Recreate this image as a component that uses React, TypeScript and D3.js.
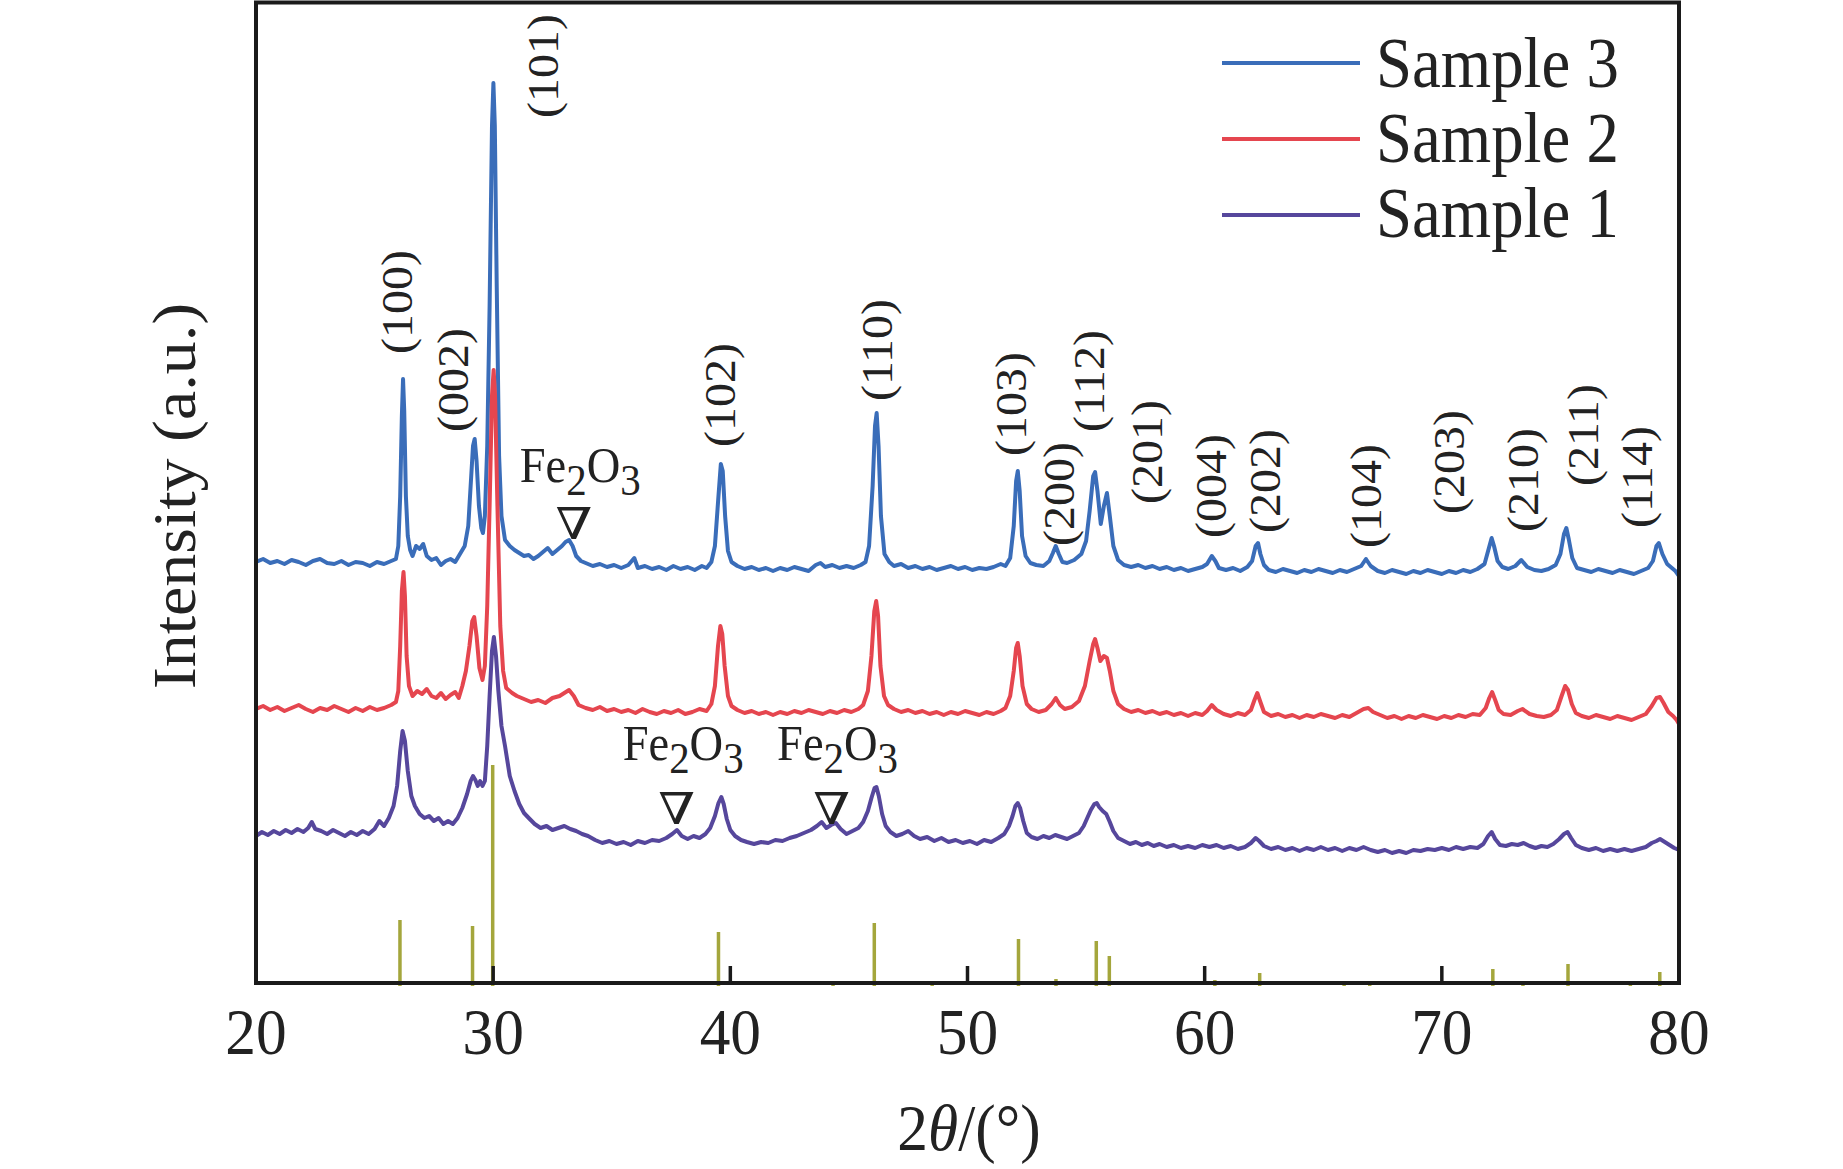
import React from 'react';
import * as d3 from 'd3';

// 2θ (deg) / intensity (a.u.), traces already stacked
const sample3: [number, number][] = [
  [20.0, 424], [20.3, 427], [20.6, 423], [20.9, 425], [21.2, 422], [21.5, 426], [21.8, 424], [22.1, 421],
  [22.4, 425], [22.7, 427], [23.0, 423], [23.3, 422], [23.6, 425], [23.9, 421], [24.2, 424], [24.5, 423],
  [24.8, 420], [25.1, 424], [25.4, 422], [25.7, 425], [25.9, 427], [26.0, 440], [26.08, 490], [26.15, 570],
  [26.2, 607], [26.25, 575], [26.32, 490], [26.4, 450], [26.5, 436], [26.6, 430], [26.75, 440], [26.9, 437],
  [27.05, 442], [27.2, 430], [27.4, 426], [27.6, 428], [27.8, 421], [28.0, 425], [28.2, 427], [28.4, 424],
  [28.6, 432], [28.8, 440], [28.95, 460], [29.05, 500], [29.15, 540], [29.22, 547], [29.3, 525], [29.4, 480],
  [29.5, 458], [29.57, 453], [29.65, 470], [29.75, 540], [29.85, 680], [29.95, 860], [30.01, 903], [30.07, 860],
  [30.15, 700], [30.25, 530], [30.35, 470], [30.5, 446], [30.7, 440], [30.9, 436], [31.1, 433], [31.3, 430],
  [31.5, 431], [31.7, 427], [31.9, 430], [32.1, 434], [32.3, 438], [32.5, 432], [32.7, 436], [32.9, 440],
  [33.05, 444], [33.2, 446], [33.35, 440], [33.5, 430], [33.7, 425], [33.9, 423], [34.2, 420], [34.5, 422],
  [34.8, 419], [35.1, 421], [35.4, 418], [35.7, 421], [35.95, 428], [36.1, 418], [36.4, 420], [36.7, 417],
  [37.0, 419], [37.3, 416], [37.6, 420], [37.9, 417], [38.2, 419], [38.5, 416], [38.8, 420], [39.0, 418],
  [39.2, 424], [39.35, 440], [39.5, 490], [39.6, 522], [39.68, 515], [39.78, 470], [39.9, 435], [40.05, 424],
  [40.3, 420], [40.6, 417], [40.9, 419], [41.2, 416], [41.5, 418], [41.8, 415], [42.1, 418], [42.4, 416],
  [42.7, 419], [43.0, 417], [43.3, 415], [43.6, 421], [43.8, 423], [44.0, 419], [44.3, 421], [44.6, 418],
  [44.9, 420], [45.2, 418], [45.5, 421], [45.7, 424], [45.85, 440], [46.0, 500], [46.1, 560], [46.17, 573],
  [46.25, 540], [46.35, 470], [46.5, 432], [46.7, 424], [46.9, 420], [47.2, 422], [47.5, 418], [47.8, 420],
  [48.1, 417], [48.4, 419], [48.7, 416], [49.0, 418], [49.3, 420], [49.6, 417], [49.9, 419], [50.2, 416],
  [50.5, 418], [50.8, 417], [51.1, 419], [51.4, 422], [51.6, 420], [51.8, 428], [51.95, 460], [52.05, 505],
  [52.12, 515], [52.2, 495], [52.3, 450], [52.45, 430], [52.65, 423], [52.9, 421], [53.2, 420], [53.45, 425],
  [53.6, 433], [53.72, 440], [53.85, 432], [54.0, 424], [54.2, 423], [54.5, 426], [54.8, 432], [55.0, 445],
  [55.15, 475], [55.3, 510], [55.38, 514], [55.48, 495], [55.62, 462], [55.75, 480], [55.88, 493], [56.0, 470],
  [56.15, 440], [56.35, 426], [56.6, 421], [56.9, 419], [57.2, 421], [57.5, 418], [57.8, 420], [58.1, 417],
  [58.4, 419], [58.7, 416], [59.0, 418], [59.3, 415], [59.6, 417], [59.9, 419], [60.1, 422], [60.3, 430],
  [60.45, 425], [60.6, 418], [60.9, 416], [61.2, 418], [61.5, 415], [61.8, 419], [62.0, 425], [62.15, 440],
  [62.25, 443], [62.35, 432], [62.5, 421], [62.7, 416], [63.0, 414], [63.3, 417], [63.6, 415], [63.9, 413],
  [64.2, 416], [64.5, 414], [64.8, 417], [65.1, 415], [65.4, 413], [65.7, 416], [66.0, 414], [66.3, 417],
  [66.6, 420], [66.8, 427], [67.0, 420], [67.3, 415], [67.6, 413], [67.9, 416], [68.2, 414], [68.5, 412],
  [68.8, 415], [69.1, 413], [69.4, 416], [69.7, 414], [70.0, 412], [70.3, 415], [70.6, 413], [70.9, 416],
  [71.2, 414], [71.5, 417], [71.8, 422], [71.95, 435], [72.1, 448], [72.2, 440], [72.35, 425], [72.55, 419],
  [72.8, 417], [73.1, 420], [73.35, 426], [73.6, 419], [73.9, 416], [74.2, 415], [74.5, 417], [74.8, 421],
  [75.0, 432], [75.15, 452], [75.25, 458], [75.35, 447], [75.5, 428], [75.7, 418], [76.0, 416], [76.3, 414],
  [76.6, 417], [76.9, 415], [77.2, 413], [77.5, 416], [77.8, 414], [78.1, 412], [78.4, 415], [78.7, 418],
  [78.9, 425], [79.05, 440], [79.15, 443], [79.3, 432], [79.5, 422], [79.7, 418], [79.85, 415], [80.0, 410],
];

const sample2: [number, number][] = [
  [20.0, 277], [20.3, 280], [20.6, 276], [20.9, 279], [21.2, 275], [21.5, 278], [21.8, 281], [22.1, 277],
  [22.4, 274], [22.7, 278], [23.0, 276], [23.3, 280], [23.6, 277], [23.9, 274], [24.2, 278], [24.5, 275],
  [24.8, 279], [25.1, 276], [25.4, 278], [25.7, 281], [25.9, 284], [26.0, 295], [26.08, 340], [26.15, 395],
  [26.22, 414], [26.28, 390], [26.35, 330], [26.45, 300], [26.6, 290], [26.8, 295], [27.0, 292], [27.2, 297],
  [27.4, 290], [27.6, 288], [27.8, 293], [28.0, 287], [28.2, 291], [28.4, 294], [28.55, 288], [28.7, 300],
  [28.85, 315], [29.0, 340], [29.12, 365], [29.2, 369], [29.3, 350], [29.42, 318], [29.55, 306], [29.65, 320],
  [29.75, 380], [29.85, 480], [29.95, 590], [30.02, 616], [30.08, 590], [30.18, 480], [30.3, 360], [30.42, 315],
  [30.55, 298], [30.8, 293], [31.0, 290], [31.3, 287], [31.6, 284], [31.9, 286], [32.2, 283], [32.5, 288],
  [32.8, 290], [33.0, 293], [33.2, 296], [33.4, 290], [33.6, 281], [33.9, 278], [34.2, 276], [34.5, 279],
  [34.8, 275], [35.1, 277], [35.4, 274], [35.7, 276], [36.0, 273], [36.3, 277], [36.6, 274], [36.9, 272],
  [37.2, 275], [37.5, 273], [37.8, 276], [38.1, 272], [38.4, 274], [38.7, 277], [39.0, 275], [39.2, 282],
  [39.35, 300], [39.48, 340], [39.58, 360], [39.66, 352], [39.76, 320], [39.9, 290], [40.05, 280], [40.3, 276],
  [40.6, 273], [40.9, 275], [41.2, 272], [41.5, 274], [41.8, 271], [42.1, 274], [42.4, 272], [42.7, 275],
  [43.0, 273], [43.3, 276], [43.6, 274], [43.9, 272], [44.2, 275], [44.5, 273], [44.8, 276], [45.1, 274],
  [45.4, 277], [45.6, 281], [45.8, 295], [45.95, 330], [46.07, 375], [46.15, 385], [46.23, 370], [46.33, 320],
  [46.48, 290], [46.65, 281], [46.9, 277], [47.2, 274], [47.5, 276], [47.8, 273], [48.1, 275], [48.4, 272],
  [48.7, 274], [49.0, 271], [49.3, 274], [49.6, 272], [49.9, 275], [50.2, 273], [50.5, 271], [50.8, 274],
  [51.1, 272], [51.4, 275], [51.6, 278], [51.8, 290], [51.95, 315], [52.05, 338], [52.12, 343], [52.2, 330],
  [52.32, 300], [52.5, 282], [52.7, 277], [53.0, 274], [53.3, 276], [53.55, 282], [53.72, 288], [53.9, 281],
  [54.1, 277], [54.4, 279], [54.7, 285], [54.95, 300], [55.15, 325], [55.3, 342], [55.38, 347], [55.48, 338],
  [55.6, 325], [55.75, 330], [55.88, 328], [56.0, 315], [56.15, 295], [56.35, 282], [56.6, 277], [56.9, 274],
  [57.2, 276], [57.5, 273], [57.8, 275], [58.1, 272], [58.4, 274], [58.7, 271], [59.0, 273], [59.3, 270],
  [59.6, 273], [59.9, 271], [60.1, 275], [60.3, 281], [60.5, 276], [60.8, 272], [61.1, 270], [61.4, 273],
  [61.7, 271], [61.95, 276], [62.1, 286], [62.22, 293], [62.35, 284], [62.5, 274], [62.8, 270], [63.1, 272],
  [63.4, 269], [63.7, 271], [64.0, 268], [64.3, 271], [64.6, 269], [64.9, 272], [65.2, 270], [65.5, 268],
  [65.8, 271], [66.1, 269], [66.4, 273], [66.7, 277], [66.9, 278], [67.1, 274], [67.4, 271], [67.7, 268],
  [68.0, 270], [68.3, 267], [68.6, 270], [68.9, 268], [69.2, 271], [69.5, 269], [69.8, 267], [70.1, 270],
  [70.4, 268], [70.7, 271], [71.0, 269], [71.3, 272], [71.6, 271], [71.85, 278], [72.0, 288], [72.12, 294],
  [72.25, 286], [72.4, 276], [72.6, 272], [72.9, 271], [73.2, 275], [73.4, 277], [73.7, 272], [74.0, 270],
  [74.3, 269], [74.6, 271], [74.85, 276], [75.05, 290], [75.2, 300], [75.32, 296], [75.48, 282], [75.65, 273],
  [75.9, 270], [76.2, 268], [76.5, 271], [76.8, 269], [77.1, 267], [77.4, 270], [77.7, 268], [78.0, 266],
  [78.3, 269], [78.6, 272], [78.85, 280], [79.05, 288], [79.2, 289], [79.35, 283], [79.55, 274], [79.75, 270],
  [79.9, 266], [80.0, 262],
];

const sample1: [number, number][] = [
  [20.0, 150], [20.25, 154], [20.5, 151], [20.75, 155], [21.0, 152], [21.25, 156], [21.5, 153], [21.75, 157],
  [22.0, 154], [22.2, 158], [22.35, 164], [22.5, 157], [22.75, 155], [23.0, 152], [23.25, 156], [23.5, 153],
  [23.75, 150], [24.0, 154], [24.25, 151], [24.5, 155], [24.75, 152], [25.0, 157], [25.2, 165], [25.4, 160],
  [25.6, 168], [25.8, 180], [25.95, 200], [26.08, 235], [26.18, 255], [26.28, 245], [26.4, 215], [26.55, 190],
  [26.7, 180], [26.9, 172], [27.1, 168], [27.3, 170], [27.5, 165], [27.7, 168], [27.9, 162], [28.1, 165],
  [28.3, 162], [28.5, 168], [28.7, 178], [28.9, 192], [29.05, 205], [29.15, 210], [29.25, 206], [29.35, 200],
  [29.45, 205], [29.55, 200], [29.65, 205], [29.75, 240], [29.85, 290], [29.95, 335], [30.03, 349], [30.12, 330],
  [30.22, 295], [30.35, 260], [30.5, 240], [30.7, 210], [30.9, 195], [31.1, 182], [31.3, 173], [31.5, 168],
  [31.75, 162], [32.0, 158], [32.25, 160], [32.5, 156], [32.75, 158], [33.0, 160], [33.25, 157], [33.5, 155],
  [33.75, 152], [34.0, 150], [34.3, 146], [34.6, 143], [34.9, 145], [35.2, 142], [35.5, 144], [35.8, 141],
  [36.1, 145], [36.4, 143], [36.7, 146], [37.0, 145], [37.3, 148], [37.55, 152], [37.75, 156], [37.95, 150],
  [38.2, 147], [38.45, 150], [38.7, 148], [38.95, 152], [39.15, 158], [39.35, 170], [39.5, 183], [39.62, 189],
  [39.72, 182], [39.85, 167], [40.0, 156], [40.2, 150], [40.45, 146], [40.7, 144], [41.0, 142], [41.3, 144],
  [41.6, 143], [41.9, 146], [42.2, 145], [42.5, 148], [42.8, 150], [43.1, 153], [43.4, 156], [43.65, 160],
  [43.85, 164], [44.05, 158], [44.25, 161], [44.45, 163], [44.65, 157], [44.9, 152], [45.15, 155], [45.4, 158],
  [45.6, 164], [45.8, 175], [45.95, 188], [46.08, 198], [46.16, 199], [46.26, 190], [46.4, 172], [46.55, 160],
  [46.75, 154], [47.0, 150], [47.25, 152], [47.5, 155], [47.75, 150], [48.0, 147], [48.3, 149], [48.6, 145],
  [48.9, 148], [49.2, 144], [49.5, 146], [49.8, 143], [50.1, 145], [50.4, 142], [50.7, 146], [51.0, 144],
  [51.3, 148], [51.55, 152], [51.75, 160], [51.9, 170], [52.02, 180], [52.12, 183], [52.22, 178], [52.35, 165],
  [52.5, 153], [52.7, 149], [52.95, 147], [53.2, 150], [53.45, 148], [53.7, 151], [53.95, 149], [54.2, 147],
  [54.45, 150], [54.7, 153], [54.9, 160], [55.05, 168], [55.2, 176], [55.35, 182], [55.45, 183], [55.55, 179],
  [55.7, 175], [55.85, 172], [56.0, 164], [56.15, 155], [56.35, 148], [56.6, 145], [56.85, 142], [57.1, 144],
  [57.35, 141], [57.6, 143], [57.85, 140], [58.1, 142], [58.4, 139], [58.7, 141], [59.0, 138], [59.3, 140],
  [59.6, 138], [59.9, 141], [60.2, 139], [60.5, 141], [60.8, 138], [61.1, 140], [61.4, 137], [61.7, 139],
  [61.95, 143], [62.15, 148], [62.3, 145], [62.5, 140], [62.8, 137], [63.1, 139], [63.4, 136], [63.7, 138],
  [64.0, 135], [64.3, 138], [64.6, 136], [64.9, 139], [65.2, 136], [65.5, 138], [65.8, 135], [66.1, 138],
  [66.4, 136], [66.7, 139], [67.0, 136], [67.3, 134], [67.6, 136], [67.9, 133], [68.2, 135], [68.5, 133],
  [68.8, 136], [69.1, 135], [69.4, 137], [69.7, 136], [70.0, 138], [70.3, 136], [70.6, 139], [70.9, 137],
  [71.2, 139], [71.5, 138], [71.75, 142], [71.95, 150], [72.1, 154], [72.25, 147], [72.45, 141], [72.7, 140],
  [72.95, 142], [73.2, 141], [73.45, 143], [73.7, 140], [73.95, 138], [74.2, 140], [74.45, 139], [74.7, 142],
  [74.95, 147], [75.15, 152], [75.3, 154], [75.45, 148], [75.65, 141], [75.9, 138], [76.2, 136], [76.5, 138],
  [76.8, 135], [77.1, 137], [77.4, 135], [77.7, 137], [78.0, 135], [78.3, 137], [78.6, 139], [78.85, 143],
  [79.05, 145], [79.2, 147], [79.4, 144], [79.6, 141], [79.8, 138], [80.0, 136],
];

// standard reference pattern (stick positions and relative heights)
const refPositions = [26.07, 29.13, 29.98, 39.5, 44.33, 46.07, 48.51, 52.15, 53.73, 55.43, 55.98, 60.43, 62.32, 65.88, 66.96, 72.15, 73.42, 75.32, 77.95, 79.19];
const refHeights = [66, 60, 221, 54, 3, 63, 3, 47, 7, 45, 30, 6, 13, 2, 5, 17, 5, 22, 2, 14];

const hklLabels = ['(100)', '(002)', '(101)', '(102)', '(110)', '(103)', '(200)', '(112)', '(201)', '(004)', '(202)', '(104)', '(203)', '(210)', '(211)', '(114)'];
const hklTheta = [25.9, 28.26, 32.09, 39.55, 46.17, 51.81, 53.83, 55.1, 57.54, 60.26, 62.5, 66.77, 70.27, 73.39, 75.92, 78.21];
const hklLevel = [684, 606, 920, 591, 636, 582, 492, 605, 534, 500, 505, 490, 524, 506, 551, 509];

// Fe2O3 impurity markers: text start, marker centre
const fe2o3TextTheta = [31.12, 35.46, 41.97];
const fe2o3TextLevel = [504, 226, 226];
const fe2o3MarkTheta = [33.4, 37.74, 44.27];
const fe2o3MarkLevel = [449, 164, 164];

const seriesNames = ['Sample 3', 'Sample 2', 'Sample 1'];
const seriesData = [sample3, sample2, sample1];
const seriesColors = ['#3a6db9', '#e5464f', '#56479c'];
const xTicks = [20, 30, 40, 50, 60, 70, 80];

const W = 1843;
const H = 1169;
const left = 256;
const right = 1679;
const top = 2.5;
const bottom = 983;
const SX = 0.93; // the original figure is slightly squeezed horizontally
const FONT = '"Liberation Serif", "Times New Roman", serif';
const INK = '#222';

const App: React.FC = () => {
  const x = d3.scaleLinear().domain([20, 80]).range([left, right]);
  const y = d3.scaleLinear().domain([0, 983]).range([986, 3]);

  const line = d3.line<[number, number]>()
    .x(d => x(d[0]))
    .y(d => y(d[1]));

  const tf = (px: number, py: number, rot?: number, sx: number = SX) =>
    `translate(${px},${py}) scale(${sx},1)${rot ? ` rotate(${rot})` : ''}`;

  return (
    <svg width={W} height={H} style={{ position: 'absolute', left: 0, top: 0, background: '#fff' }} fontFamily={FONT}>
      <defs>
        <clipPath id="plot">
          <rect x={left} y={top} width={right - left} height={bottom - top} />
        </clipPath>
      </defs>

      {/* reference sticks */}
      <g stroke="#a4a63c" strokeWidth={3.5}>
        {refPositions.map((p, i) => (
          <line key={i} x1={x(p)} x2={x(p)} y1={y(0)} y2={y(refHeights[i])} />
        ))}
      </g>

      {/* XRD traces */}
      <g clipPath="url(#plot)" fill="none" strokeWidth={4} strokeLinejoin="round">
        {seriesData.map((s, i) => (
          <path key={i} d={line(s) || ''} stroke={seriesColors[i]} />
        ))}
      </g>

      {/* frame and ticks */}
      <rect x={left} y={top} width={right - left} height={bottom - top} fill="none" stroke="#1a1a1a" strokeWidth={4} />
      <g stroke="#1a1a1a" strokeWidth={3.5}>
        {xTicks.slice(1, -1).map(t => (
          <line key={t} x1={x(t)} x2={x(t)} y1={bottom} y2={bottom - 17} />
        ))}
      </g>
      <g fill={INK} fontSize={66} textAnchor="middle">
        {xTicks.map(t => (
          <text key={t} transform={tf(x(t), 1054)}>{t}</text>
        ))}
      </g>

      <text transform={tf(969, 1150)} fontSize={66} textAnchor="middle" fill={INK}>
        2<tspan fontStyle="italic">θ</tspan>/(°)
      </text>
      <text transform={tf(195, 496, -90)} fontSize={66} textAnchor="middle" fill={INK}>
        Intensity (a.u.)
      </text>

      {/* hkl labels */}
      <g fill={INK} fontSize={48} textAnchor="middle">
        {hklLabels.map((l, i) => (
          <text key={l} transform={tf(x(hklTheta[i]), y(hklLevel[i]), -90)} dy="0.35em">{l}</text>
        ))}
      </g>

      {/* Fe2O3 markers */}
      <g fill={INK}>
        {fe2o3TextTheta.map((t, i) => (
          <text key={i} transform={tf(x(t), y(fe2o3TextLevel[i]))} fontSize={50}>
            Fe<tspan fontSize={44} dy={13}>2</tspan><tspan dy={-13}>O</tspan><tspan fontSize={44} dy={13}>3</tspan>
          </text>
        ))}
        {fe2o3MarkTheta.map((t, i) => (
          <text key={i} transform={tf(x(t), y(fe2o3MarkLevel[i]) + 2, 0, 1.2)} fontSize={44} textAnchor="middle"
            fontFamily={'"Liberation Serif", "DejaVu Serif", serif'}>∇</text>
        ))}
      </g>

      {/* legend */}
      <g>
        {seriesNames.map((n, i) => (
          <g key={n}>
            <line x1={1222} x2={1360} y1={63 + i * 76} y2={63 + i * 76} stroke={seriesColors[i]} strokeWidth={4} />
            <text transform={tf(1376, 87 + i * 75, 0, 0.9)} fontSize={72} fill={INK}>{n}</text>
          </g>
        ))}
      </g>
    </svg>
  );
};

export default App;
